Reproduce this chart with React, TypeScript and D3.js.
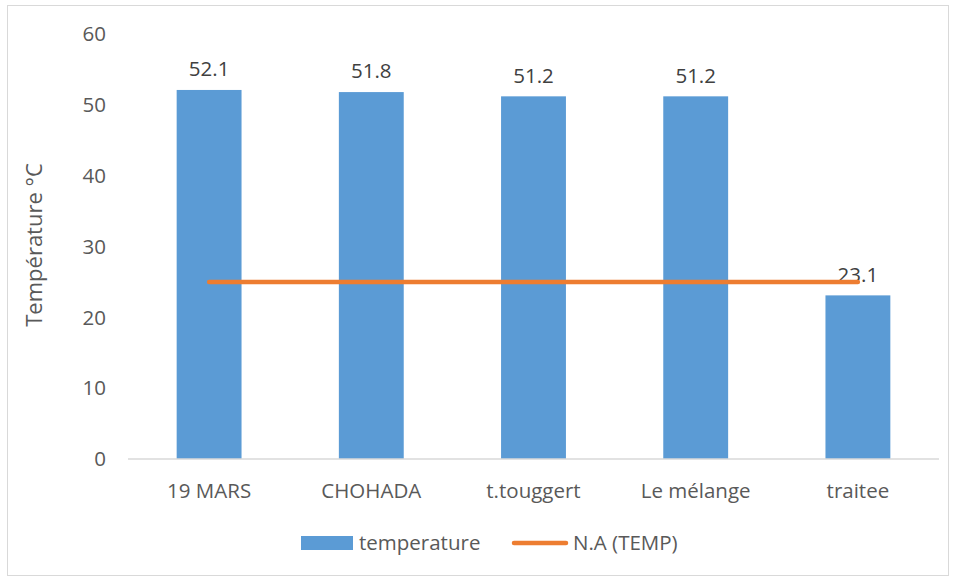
import React from "react";
import * as d3 from "d3";

const categories = ["19 MARS", "CHOHADA", "t.touggert", "Le mélange", "traitee"];
const temperature = [52.1, 51.8, 51.2, 51.2, 23.1];
const naTemp = [25, 25, 25, 25, 25];
const yTicks = [0, 10, 20, 30, 40, 50, 60];

const W = 956;
const H = 579;
const FONT = "'Open Sans', sans-serif";
const FS = 20.5;

export default function App() {
  const x = d3
    .scaleBand<string>()
    .domain(categories)
    .range([128, 939])
    .paddingInner(0.6)
    .paddingOuter(0.3);
  const y = d3.scaleLinear().domain([0, 60]).range([459, 34]);
  const line = d3
    .line<number>()
    .x((_, i) => (x(categories[i]) as number) + x.bandwidth() / 2)
    .y((d) => y(d));

  return (
    <svg
      width={W}
      height={H}
      style={{ position: "absolute", left: 0, top: 0, background: "#fff" }}
      fontFamily={FONT}
    >
      <rect x={7.5} y={5.5} width={941} height={570} fill="#fff" stroke="#d9d9d9" />
      {yTicks.map((t) => (
        <text
          key={t}
          x={106}
          y={y(t)}
          dy="0.35em"
          textAnchor="end"
          fontSize={FS}
          fill="#595959"
        >
          {t}
        </text>
      ))}
      <text
        transform={`translate(34, ${245}) rotate(-90)`}
        textAnchor="middle"
        dy="0.35em"
        fontSize={22}
        fill="#595959"
      >
        Température °C
      </text>
      {categories.map((c, i) => (
        <g key={c}>
          <rect
            x={x(c)}
            y={y(temperature[i])}
            width={x.bandwidth()}
            height={y(0) - y(temperature[i])}
            fill="#5b9bd5"
          />
          <text
            x={(x(c) as number) + x.bandwidth() / 2}
            y={y(temperature[i]) - 21}
            textAnchor="middle"
            dy="0.35em"
            fontSize={FS}
            fill="#404040"
          >
            {temperature[i]}
          </text>
          <text
            x={(x(c) as number) + x.bandwidth() / 2}
            y={491}
            textAnchor="middle"
            dy="0.35em"
            fontSize={FS}
            fill="#595959"
          >
            {c}
          </text>
        </g>
      ))}
      <line x1={128} x2={939} y1={y(0)} y2={y(0)} stroke="#d9d9d9" strokeWidth={1.5} />
      <path d={line(naTemp) || ""} fill="none" stroke="#ed7d31" strokeWidth={4.5} strokeLinecap="round" />
      <rect x={301} y={536} width={52} height={14} fill="#5b9bd5" />
      <text x={359} y={543} dy="0.35em" fontSize={FS} fill="#595959">
        temperature
      </text>
      <line x1={514} x2={566} y1={543} y2={543} stroke="#ed7d31" strokeWidth={4.5} strokeLinecap="round" />
      <text x={573} y={543} dy="0.35em" fontSize={FS} fill="#595959">
        N.A (TEMP)
      </text>
    </svg>
  );
}
